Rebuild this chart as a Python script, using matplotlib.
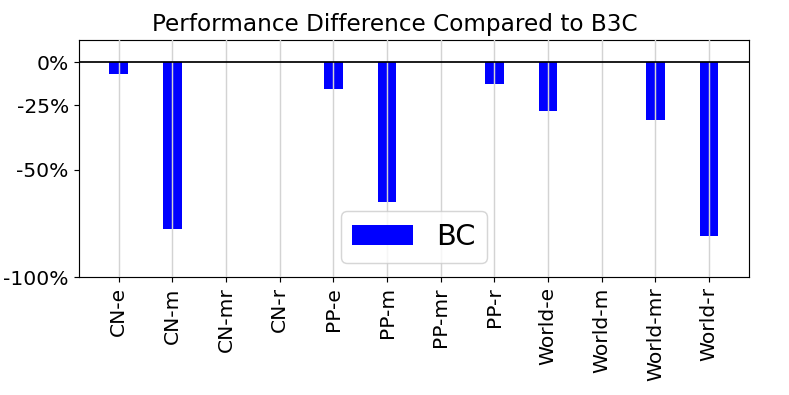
import matplotlib
matplotlib.use("Agg")
import matplotlib.pyplot as plt
import numpy as np

categories = ["CN-e", "CN-m", "CN-mr", "CN-r", "PP-e", "PP-m", "PP-mr", "PP-r",
              "World-e", "World-m", "World-mr", "World-r"]
bc_values = [-5.7, -77.7, 0, 0, -12.6, -65.1, 0, -10.1, -22.9, 0, -27.1, -81.1]
ytick_values = [0, -20, -50, -100]
ytick_labels = ["0%", "-25%", "-50%", "-100%"]

fig = plt.figure(figsize=(7.5870, 3.7985), dpi=104)
ax = fig.add_axes([0.1001, 0.2987, 0.849, 0.6])

x = np.arange(len(categories))
ax.bar(x, bc_values, width=0.35, color="blue", label="BC", zorder=1)
ax.axhline(0, color="black", linewidth=1.2, zorder=3)
ax.xaxis.grid(True, color="#d3d3d3", linewidth=1, zorder=2)
ax.set_axisbelow(False)

ax.set_ylim(-100, 10.3)
ax.set_yticks(ytick_values)
ax.set_yticklabels(ytick_labels, fontsize=14)
ax.set_xticks(x)
ax.set_xticklabels(categories, rotation=90, fontsize=14)
t = ax.set_title("Performance Difference Compared to B3C", fontsize=16)
t.set_x(0.471)
for s in ax.spines.values():
    s.set_color("black")
ax.legend(loc="lower center", fontsize=20, handlelength=2.1)

fig.savefig("out.png", dpi=104)
